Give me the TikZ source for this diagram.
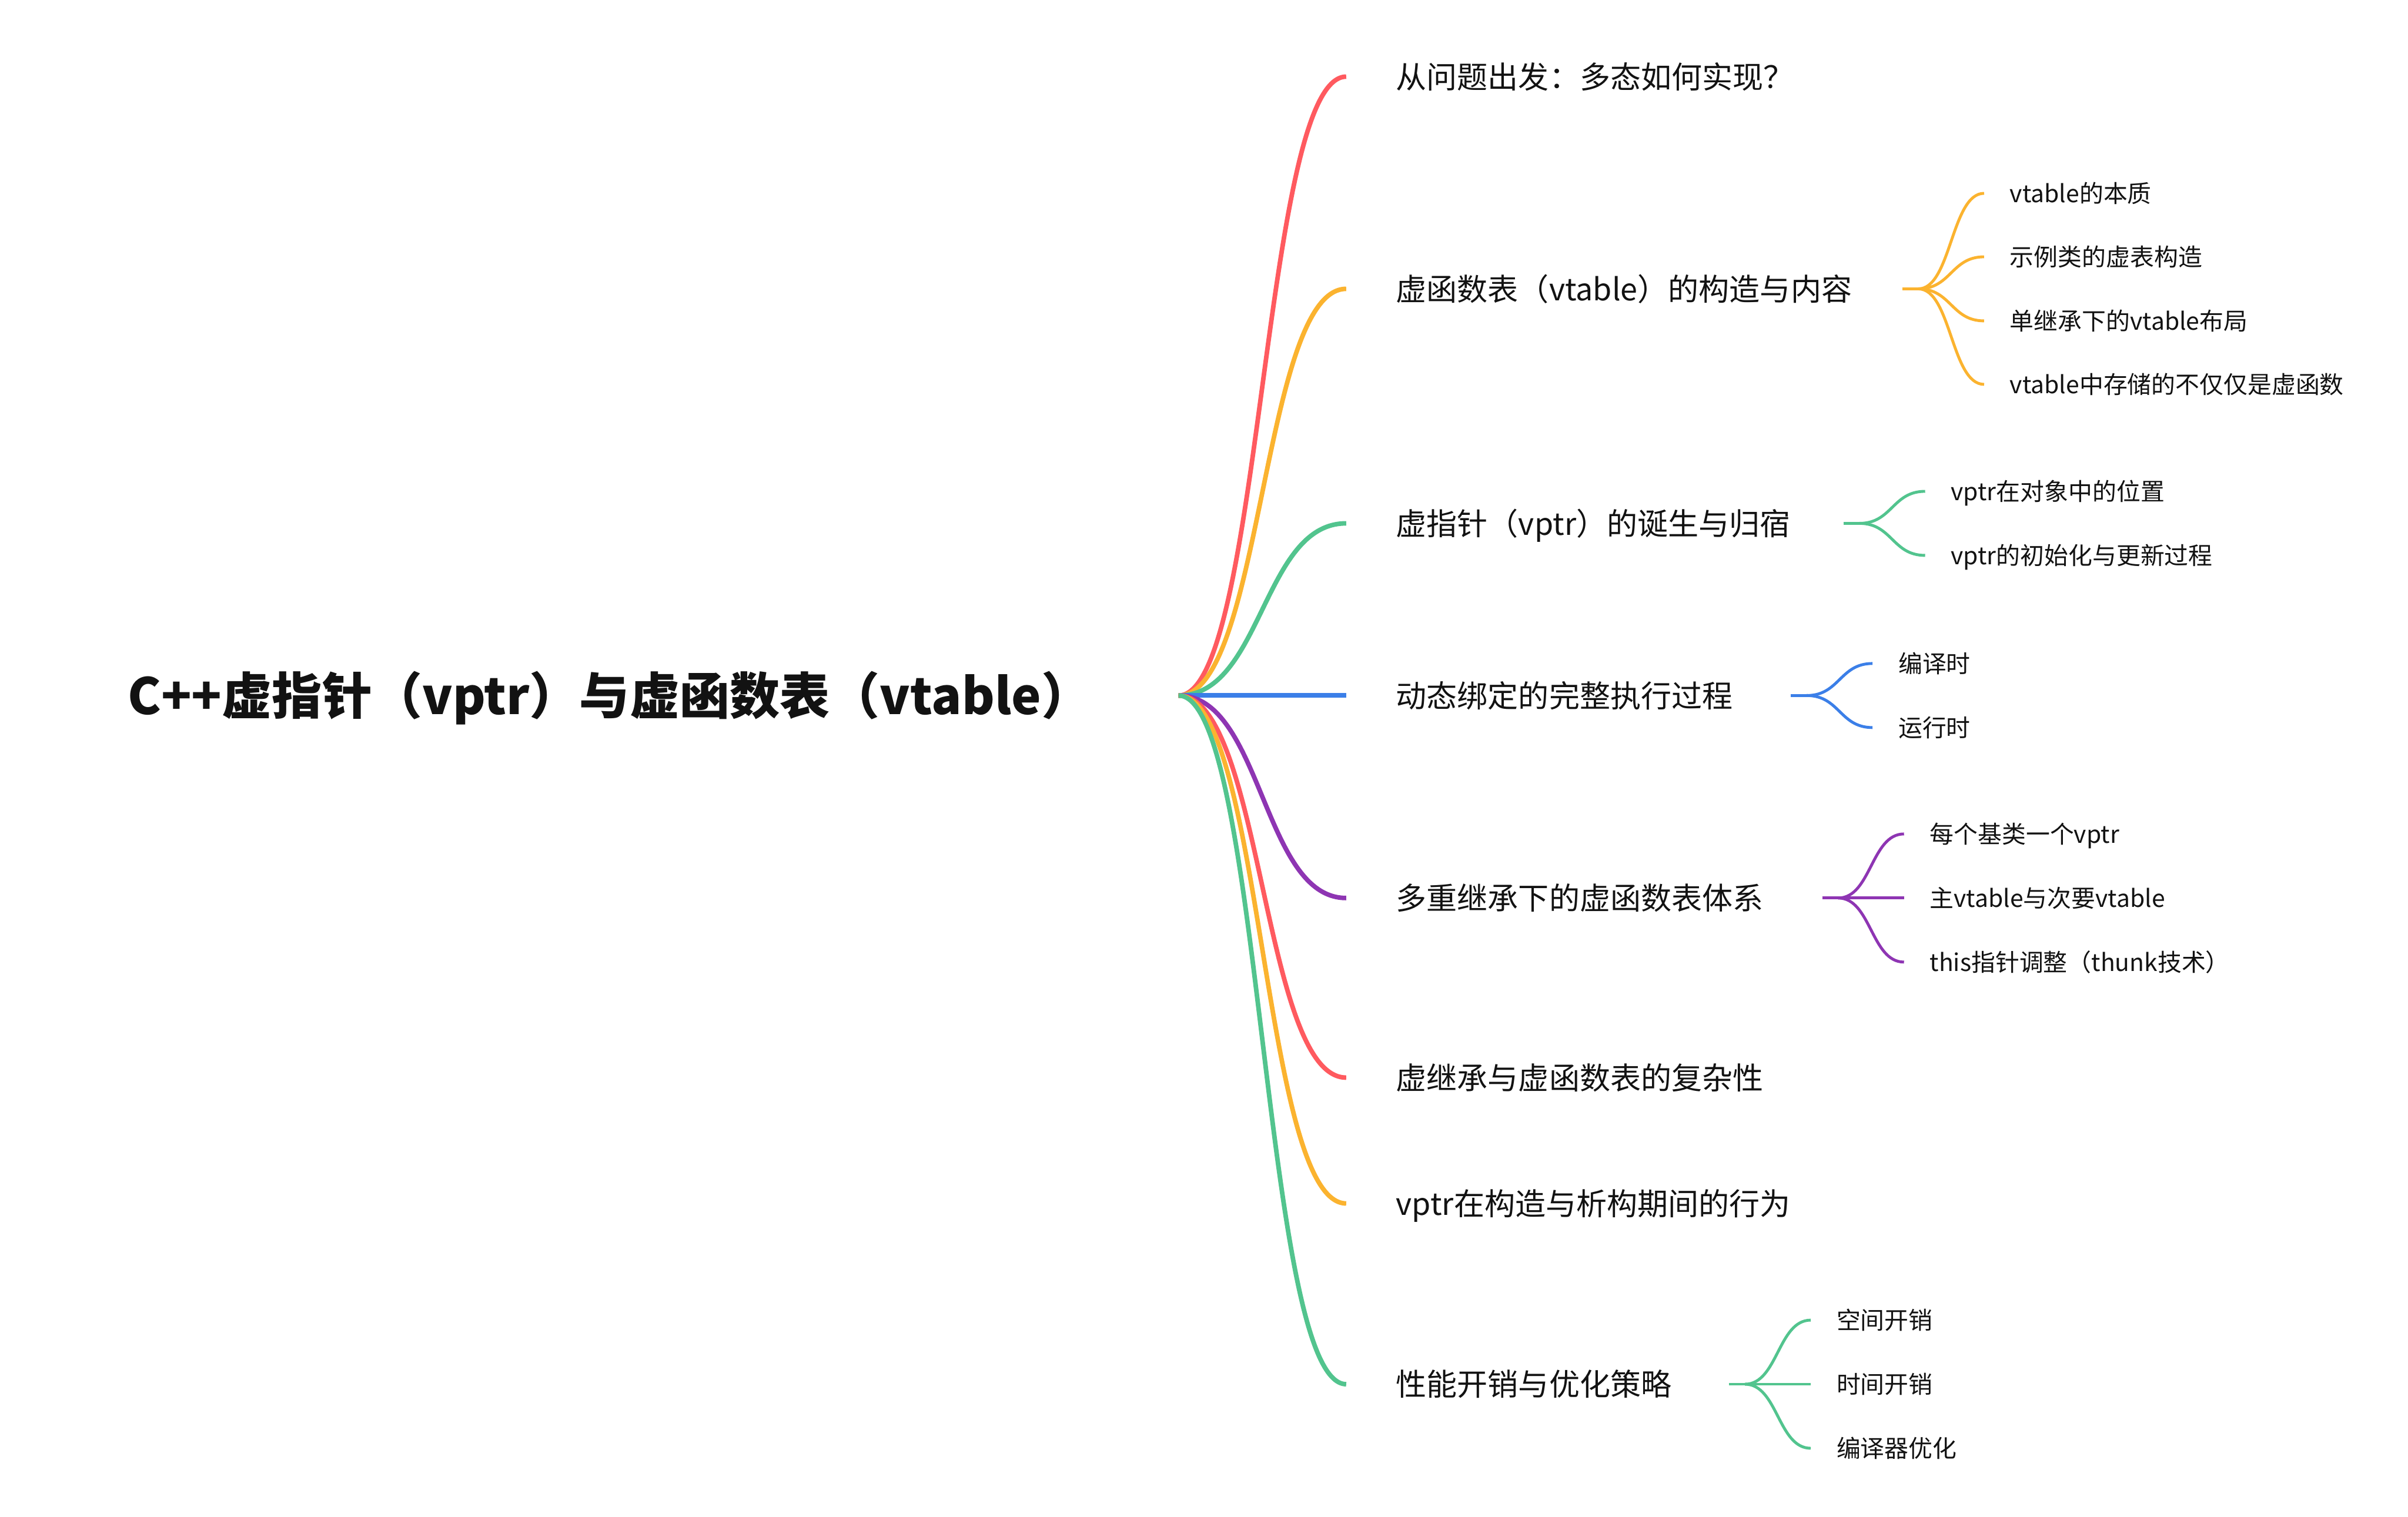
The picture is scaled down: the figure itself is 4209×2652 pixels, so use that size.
\documentclass[tikz,border=0pt]{standalone}
\usepackage{fontspec}
\setmainfont{Noto Sans CJK SC}
\usetikzlibrary{positioning}
\definecolor{ink}{HTML}{121212}
\definecolor{mapred}{HTML}{FF5A5F}
\definecolor{maporange}{HTML}{FBB32F}
\definecolor{mapgreen}{HTML}{52C48E}
\definecolor{mapblue}{HTML}{3B7FE8}
\definecolor{mappurple}{HTML}{8E35B3}

\begin{document}
\begin{tikzpicture}[
  x=1pt, y=-1pt,
  rootnode/.style={inner sep=0pt, text=ink, font=\fontsize{87.5}{98}\selectfont\bfseries, text height=77pt, text depth=10.5pt},
  topic/.style={inner xsep=87pt, inner ysep=0pt, text=ink, font=\fontsize{53.5}{60}\selectfont, text height=47pt, text depth=6.5pt},
  leaf/.style={inner xsep=45pt, inner ysep=0pt, text=ink, font=\fontsize{42}{48}\selectfont, text height=37pt, text depth=5pt},
  trunk/.style={line width=8pt},
  twig/.style={line width=5pt}
]
  \useasboundingbox[fill=white] (0,0) rectangle (4209,2652);

  % root and first level
  \node[rootnode, anchor=west] (root) at (223,1216) {C++虚指针（vptr）与虚函数表（vtable）};
  \coordinate (hub) at (2060,1216);

  \node[topic, anchor=west] (c1) at (2353,134) {从问题出发：多态如何实现？};
  \node[topic, anchor=west] (c2) at (2353,505) {虚函数表（vtable）的构造与内容};
  \node[topic, anchor=west] (c3) at (2353,915) {虚指针（vptr）的诞生与归宿};
  \node[topic, anchor=west] (c4) at (2353,1216) {动态绑定的完整执行过程};
  \node[topic, anchor=west] (c5) at (2353,1570) {多重继承下的虚函数表体系};
  \node[topic, anchor=west] (c6) at (2353,1884) {虚继承与虚函数表的复杂性};
  \node[topic, anchor=west] (c7) at (2353,2104) {vptr在构造与析构期间的行为};
  \node[topic, anchor=west] (c8) at (2353,2420) {性能开销与优化策略};

  \draw[trunk, mapred] (hub) .. controls +(146.5,0) and +(-146.5,0) .. (c1.west);
  \draw[trunk, maporange] (hub) .. controls +(146.5,0) and +(-146.5,0) .. (c2.west);
  \draw[trunk, mapgreen] (hub) .. controls +(146.5,0) and +(-146.5,0) .. (c3.west);
  \draw[trunk, mapblue] (hub) -- (c4.west);
  \draw[trunk, mappurple] (hub) .. controls +(146.5,0) and +(-146.5,0) .. (c5.west);
  \draw[trunk, mapred] (hub) .. controls +(146.5,0) and +(-146.5,0) .. (c6.west);
  \draw[trunk, maporange] (hub) .. controls +(146.5,0) and +(-146.5,0) .. (c7.west);
  \draw[trunk, mapgreen] (hub) .. controls +(146.5,0) and +(-146.5,0) .. (c8.west);

  % vtable
  \coordinate (s2) at (3325,505);
  \coordinate (k2) at (3353,505);
  \node[leaf, anchor=west] (g21) at (3468,338) {vtable的本质};
  \node[leaf, anchor=west] (g22) at (3468,449) {示例类的虚表构造};
  \node[leaf, anchor=west] (g23) at (3468,561) {单继承下的vtable布局};
  \node[leaf, anchor=west] (g24) at (3468,672) {vtable中存储的不仅仅是虚函数};
  \draw[twig, maporange] (s2) -- (k2);
  \draw[twig, maporange] (k2) .. controls +(57.5,0) and +(-57.5,0) .. (g21.west);
  \draw[twig, maporange] (k2) .. controls +(57.5,0) and +(-57.5,0) .. (g22.west);
  \draw[twig, maporange] (k2) .. controls +(57.5,0) and +(-57.5,0) .. (g23.west);
  \draw[twig, maporange] (k2) .. controls +(57.5,0) and +(-57.5,0) .. (g24.west);

  % vptr
  \coordinate (s3) at (3222,915);
  \coordinate (k3) at (3250,915);
  \node[leaf, anchor=west] (g31) at (3365,859) {vptr在对象中的位置};
  \node[leaf, anchor=west] (g32) at (3365,971) {vptr的初始化与更新过程};
  \draw[twig, mapgreen] (s3) -- (k3);
  \draw[twig, mapgreen] (k3) .. controls +(57.5,0) and +(-57.5,0) .. (g31.west);
  \draw[twig, mapgreen] (k3) .. controls +(57.5,0) and +(-57.5,0) .. (g32.west);

  % dynamic binding
  \coordinate (s4) at (3130,1216);
  \coordinate (k4) at (3158,1216);
  \node[leaf, anchor=west] (g41) at (3273,1160) {编译时};
  \node[leaf, anchor=west] (g42) at (3273,1272) {运行时};
  \draw[twig, mapblue] (s4) -- (k4);
  \draw[twig, mapblue] (k4) .. controls +(57.5,0) and +(-57.5,0) .. (g41.west);
  \draw[twig, mapblue] (k4) .. controls +(57.5,0) and +(-57.5,0) .. (g42.west);

  % multiple inheritance
  \coordinate (s5) at (3185,1570);
  \coordinate (k5) at (3213,1570);
  \node[leaf, anchor=west] (g51) at (3328,1458) {每个基类一个vptr};
  \node[leaf, anchor=west] (g52) at (3328,1570) {主vtable与次要vtable};
  \node[leaf, anchor=west] (g53) at (3328,1682) {this指针调整（thunk技术）};
  \draw[twig, mappurple] (s5) -- (k5);
  \draw[twig, mappurple] (k5) .. controls +(57.5,0) and +(-57.5,0) .. (g51.west);
  \draw[twig, mappurple] (k5) -- (g52.west);
  \draw[twig, mappurple] (k5) .. controls +(57.5,0) and +(-57.5,0) .. (g53.west);

  % performance
  \coordinate (s8) at (3022,2420);
  \coordinate (k8) at (3050,2420);
  \node[leaf, anchor=west] (g81) at (3165,2308) {空间开销};
  \node[leaf, anchor=west] (g82) at (3165,2420) {时间开销};
  \node[leaf, anchor=west] (g83) at (3165,2532) {编译器优化};
  \draw[twig, mapgreen] (s8) -- (k8);
  \draw[twig, mapgreen] (k8) .. controls +(57.5,0) and +(-57.5,0) .. (g81.west);
  \draw[twig, mapgreen] (k8) -- (g82.west);
  \draw[twig, mapgreen] (k8) .. controls +(57.5,0) and +(-57.5,0) .. (g83.west);
\end{tikzpicture}
\end{document}
